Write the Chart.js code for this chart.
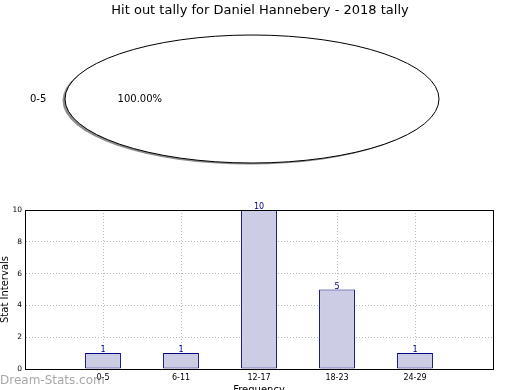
<!DOCTYPE html>
<html>
<head>
<meta charset="utf-8">
<script src="https://cdn.jsdelivr.net/npm/chart.js@4/dist/chart.umd.min.js"></script>
<style>
  html, body { margin: 0; padding: 0; background: #fff; }
  #wrap { position: relative; width: 520px; height: 390px; overflow: hidden; }
  #bars { position: absolute; left: 0; top: 0; }
  #pie { position: absolute; left: 0; top: 29px; }
</style>
</head>
<body>
<div id="wrap">
  <canvas id="bars" width="520" height="400"></canvas>
  <canvas id="pie" width="520" height="140"></canvas>
</div>
<script>
const chartTitle = 'Hit out tally for Daniel Hannebery - 2018 tally';
const pieLabels = ['0-5'];
const pieValues = [100];
const intervals = ['0-5', '6-11', '12-17', '18-23', '24-29'];
const counts = [1, 1, 10, 5, 1];
const yTicks = [0, 2, 4, 6, 8, 10];

const FONT = 'DejaVu Sans';
const stretch = 187 / 64;   // pie is drawn as a wide ellipse

const pieShape = {
    id: 'pieShape',
    beforeDatasetsDraw(chart) {
	const arc = chart.getDatasetMeta(0).data[0];
	const ctx = chart.ctx;
	ctx.save();
	// shadow
	ctx.fillStyle = 'rgba(0,0,0,0.45)';
	ctx.beginPath();
	ctx.ellipse(arc.x - 2.5, arc.y + 1.5, arc.outerRadius * stretch, arc.outerRadius, 0, 0, Math.PI * 2);
	ctx.fill();
	ctx.translate(arc.x, arc.y);
	ctx.scale(stretch, 1);
	ctx.translate(-arc.x, -arc.y);
    },
    afterDatasetsDraw(chart) {
	const ctx = chart.ctx;
	ctx.restore();
	const meta = chart.getDatasetMeta(0);
	const total = pieValues.reduce((a, b) => a + b, 0);
	meta.data.forEach((arc, i) => {
	    ctx.save();
	    ctx.strokeStyle = '#000';
	    ctx.lineWidth = 1;
	    ctx.beginPath();
	    ctx.ellipse(arc.x, arc.y, arc.outerRadius * stretch, arc.outerRadius, 0, 0, Math.PI * 2);
	    ctx.stroke();

	    const mid = (arc.startAngle + arc.endAngle) / 2;
	    const c = Math.cos(mid), s = Math.sin(mid);
	    ctx.fillStyle = '#000';
	    ctx.font = '10px "' + FONT + '"';
	    ctx.textBaseline = 'middle';
	    ctx.textAlign = c < 0 ? 'right' : 'left';
	    ctx.fillText(pieLabels[i], arc.x + c * arc.outerRadius * 1.1 * stretch, arc.y + s * arc.outerRadius * 1.1);
	    ctx.textAlign = 'center';
	    const pct = (pieValues[i] / total * 100).toFixed(2) + '%';
	    ctx.fillText(pct, arc.x + c * arc.outerRadius * 0.6 * stretch, arc.y + s * arc.outerRadius * 0.6);
	    ctx.restore();
	});
    }
};

new Chart(document.getElementById('pie'), {
    type: 'pie',
    data: {
	labels: pieLabels,
	datasets: [{
	    data: pieValues,
	    backgroundColor: '#fff',
	    borderWidth: 0
	}]
    },
    options: {
	responsive: false,
	animation: false,
	events: [],
	rotation: 90,
	layout: { padding: { top: 6, bottom: 6, left: 0, right: 16 } },
	plugins: {
	    legend: { display: false },
	    tooltip: { enabled: false }
	}
    },
    plugins: [pieShape]
});

const barExtras = {
    id: 'barExtras',
    afterDatasetsDraw(chart) {
	const ctx = chart.ctx;
	ctx.save();
	ctx.fillStyle = '#000080';
	ctx.font = '8px "' + FONT + '"';
	ctx.textAlign = 'center';
	ctx.textBaseline = 'bottom';
	chart.getDatasetMeta(0).data.forEach((bar, i) => {
	    ctx.fillText(String(counts[i]), bar.x, bar.y + 1);
	});
	ctx.restore();
    },
    afterDraw(chart) {
	const ctx = chart.ctx;
	const a = chart.chartArea;
	ctx.save();
	ctx.strokeStyle = '#000';
	ctx.lineWidth = 1;
	ctx.strokeRect(Math.round(a.left) + 0.5, Math.round(a.top) + 0.5, Math.round(a.right - a.left), Math.round(a.bottom - a.top));
	ctx.fillStyle = 'rgba(130,130,130,0.7)';
	ctx.font = '12px "' + FONT + '"';
	ctx.textAlign = 'left';
	ctx.textBaseline = 'middle';
	ctx.fillText('Dream-Stats.com', 0, 381);
	ctx.restore();
    }
};

new Chart(document.getElementById('bars'), {
    type: 'bar',
    data: {
	labels: ['', ...intervals, ''],
	datasets: [{
	    data: intervals.map((c, i) => ({ x: c, y: counts[i] })),
	    backgroundColor: 'rgb(204,204,228)',
	    borderColor: '#000080',
	    borderWidth: 1,
	    borderSkipped: false,
	    categoryPercentage: 1,
	    barPercentage: 0.46
	}]
    },
    options: {
	responsive: false,
	animation: false,
	events: [],
	layout: { padding: 0 },
	plugins: {
	    legend: { display: false },
	    tooltip: { enabled: false },
	    title: {
		display: true,
		text: chartTitle,
		color: '#000',
		font: { family: FONT, size: 13, weight: 'normal' },
		padding: { top: 3, bottom: 191.4 }
	    }
	},
	scales: {
	    x: {
		offset: false,
		z: 1,
		grid: {
		    display: true,
		    offset: false,
		    color: '#b8b8b8',
		    drawTicks: false
		},
		border: { display: false, dash: [1, 2] },
		ticks: {
		    color: '#000',
		    font: { family: FONT, size: 8 },
		    padding: 4,
		    maxRotation: 0,
		    autoSkip: false
		},
		title: {
		    display: true,
		    text: 'Frequency',
		    color: '#000',
		    font: { family: FONT, size: 10 },
		    padding: { top: 0, bottom: 4 }
		},
		afterFit(scale) { scale.height = 31; }
	    },
	    y: {
		min: 0,
		max: 10,
		grid: {
		    color: '#b8b8b8',
		    drawTicks: false
		},
		border: { color: '#000', dash: [1, 2] },
		afterBuildTicks(scale) {
		    scale.ticks = yTicks.map(v => ({ value: v }));
		},
		ticks: {
		    color: '#000',
		    font: { family: FONT, size: 7.5 },
		    padding: 3
		},
		title: {
		    display: true,
		    text: 'Stat Intervals',
		    color: '#000',
		    font: { family: FONT, size: 10, lineHeight: 1 },
		    padding: 0
		},
		afterFit(scale) { scale.width = 25; }
	    },
	    // empty right-hand strip so the plot ends where the reference does
	    yRight: {
		position: 'right',
		min: 0,
		max: 10,
		grid: { display: false },
		border: { display: false },
		ticks: { display: false },
		afterFit(scale) { scale.width = 27; }
	    }
	}
    },
    plugins: [barExtras]
});
</script>
</body>
</html>
